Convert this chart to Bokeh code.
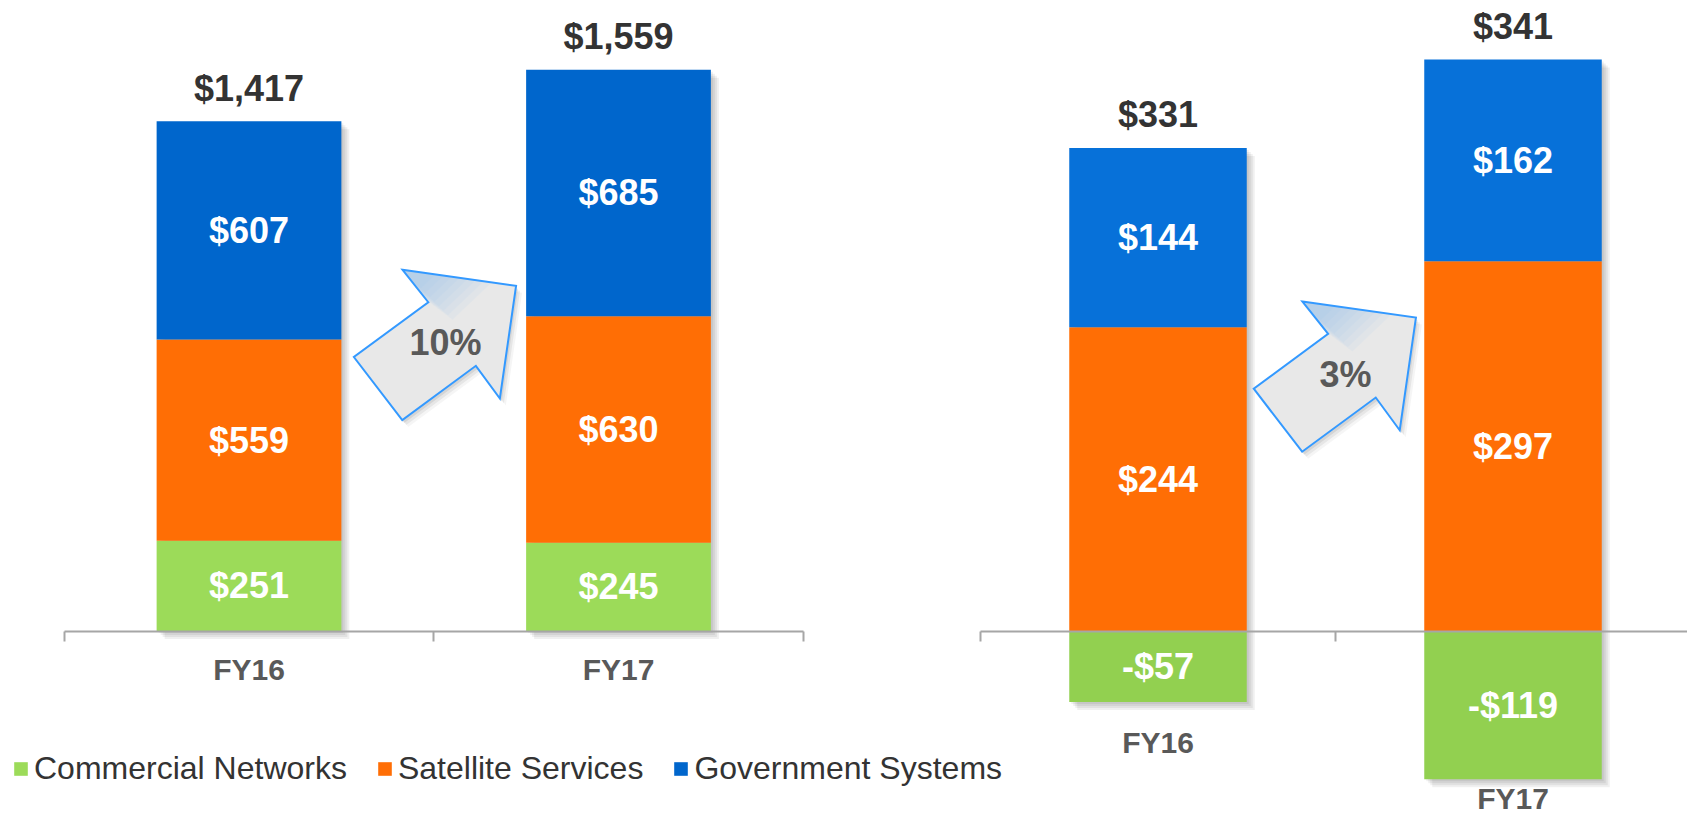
import numpy as np
from bokeh.plotting import figure
from bokeh.models import Range1d, LinearAxis, FixedTicker, Legend, LegendItem
from bokeh.core.properties import value
from bokeh.embed import file_html
from bokeh.resources import INLINE

# ---------------- data ----------------
categories = ["FY16", "FY17"]
series_names = ["Commercial Networks", "Satellite Services", "Government Systems"]

left_commercial = [251, 245]
left_satellite = [559, 630]
left_government = [607, 685]
left_totals = [1417, 1559]
left_growth = "10%"

right_commercial = [-57, -119]
right_satellite = [244, 297]
right_government = [144, 162]
right_totals = [331, 341]
right_growth = "3%"

# ---------------- styles / layout ----------------
W, H = 1687, 818
FONT_NAME = "Liberation Sans"
FONT = value(FONT_NAME)
LEFT_COLORS = ["#9CDB59", "#FF6E05", "#0066CC"]
RIGHT_COLORS = ["#92D050", "#FF6E05", "#0771D9"]
AXIS_COLOR = "#A6A6A6"
BAR_W = 0.5

# canvas geometry (pixels inside the figure)
BASE_Y = 630.5            # zero line
L_X0, L_CAT, L_K = 63.75, 369.5, 0.3598
R_X0, R_CAT, R_K = 980.0, 355.0, 1.245

left_x_range = Range1d(-L_X0 / L_CAT, (W - L_X0) / L_CAT)
left_y_range = Range1d(-(H - BASE_Y) / L_K, BASE_Y / L_K)
right_x_range = Range1d(-R_X0 / R_CAT, (W - R_X0) / R_CAT)
right_y_range = Range1d(-(H - BASE_Y) / R_K, BASE_Y / R_K)

# arrow outline, pixel offsets around its label (x right, y down)
ARROW = [(-43, -73), (70.5, -57), (54.3, 55.7), (30.3, 23), (-43.3, 77.2), (-91.7, 14.2), (-17.3, -40.6)]
LEFT_ARROW_AT = (1.032, 801)
RIGHT_ARROW_AT = (1.028, 206)
R_LABEL_GAP = [41, 19]


def money(v):
    return f"-${-v:,}" if v < 0 else f"${v:,}"


p = figure(width=W, height=H, x_range=left_x_range, y_range=left_y_range,
           output_backend="svg", toolbar_location=None,
           x_axis_location=None, y_axis_location=None, min_border=0,
           outline_line_color=None, background_fill_color="white",
           border_fill_color="white")
p.extra_x_ranges = {"r": right_x_range}
p.extra_y_ranges = {"r": right_y_range}
p.grid.visible = False


def draw_arrow(anchor, sx, sy, label, kw):
    ax, ay = anchor
    xs = [ax + dx / sx for dx, dy in ARROW]
    ys = [ay - dy / sy for dx, dy in ARROW]
    for off, alpha in [(2, 0.08), (4, 0.06), (6, 0.04)]:
        p.patch([ax + (dx + off) / sx for dx, dy in ARROW],
                [ay - (dy + off + 1) / sy for dx, dy in ARROW],
                fill_color="black", fill_alpha=alpha, line_color=None, **kw)
    p.patch(xs, ys, fill_color="#E8E8E8", line_color=None, **kw)
    # bluish tint fading away from the upper barb
    bx, by = ARROW[0]
    for i in range(8):
        frac = 1.0 - i * 0.09
        pts = [(bx, by),
               (bx + frac * 90, by + frac * 12),
               (bx + frac * 50, by + frac * 50),
               (bx + frac * 26, by + frac * 32)]
        p.patch([ax + q[0] / sx for q in pts], [ay - q[1] / sy for q in pts],
                fill_color="#7FB2EA", fill_alpha=0.07, line_color=None, **kw)
    p.patch(xs, ys, fill_color=None, line_color="#3399FF", line_width=2,
            line_join="miter", **kw)
    p.text(x=[ax], y=[ay], text=[label], text_font=FONT, text_font_style="bold",
           text_font_size="36px", text_color="#595959", text_align="center",
           text_baseline="middle", **kw)


def draw_panel(vals_list, colors, totals, growth, sx, sy, anchor, rn):
    kw = {} if rn is None else dict(x_range_name=rn, y_range_name=rn)
    n = len(categories)
    x = np.arange(n) + 0.5
    pos = np.zeros(n)
    neg = np.zeros(n)
    segs = []
    for vals, col in zip(vals_list, colors):
        v = np.array(vals, dtype=float)
        bottom = np.where(v >= 0, pos, neg + v)
        top = np.where(v >= 0, pos + v, neg)
        pos = np.where(v >= 0, pos + v, pos)
        neg = np.where(v < 0, neg + v, neg)
        segs.append((vals, bottom, top, col))
    # soft drop shadow
    for k in range(1, 5):
        d = 2 * k
        p.vbar(x=x + d / sx, width=BAR_W, bottom=neg - d / sy, top=pos - d / sy,
               fill_color="black", fill_alpha=0.06, line_color=None, **kw)
    rends = []
    for vals, b, t, col in segs:
        r = p.vbar(x=x, width=BAR_W, bottom=b, top=t, fill_color=col,
                   line_color=None, **kw)
        rends.append(r)
        p.text(x=x, y=(b + t) / 2, text=[money(a) for a in vals], text_font=FONT,
               text_font_style="bold", text_font_size="36px", text_color="white",
               text_align="center", text_baseline="middle", **kw)
    p.text(x=x, y=pos, text=[money(t) for t in totals], y_offset=-33,
           text_font=FONT, text_font_style="bold", text_font_size="36px",
           text_color="#333333", text_align="center", text_baseline="middle", **kw)
    draw_arrow(anchor, sx, sy, growth, kw)
    # axis line with boundary ticks at the zero line
    tick_axis = LinearAxis(fixed_location=0, ticker=FixedTicker(ticks=list(range(n + 1))),
                           bounds=(0, n), major_tick_in=0, major_tick_out=10,
                           axis_line_color=AXIS_COLOR, axis_line_width=2,
                           major_tick_line_color=AXIS_COLOR, major_tick_line_width=2,
                           minor_tick_line_color=None,
                           major_label_overrides={i: "" for i in range(n + 1)},
                           major_label_text_font_size="1px")
    if rn is not None:
        tick_axis.x_range_name = rn
    p.add_layout(tick_axis, "below")
    return x, pos, neg, rends


# left panel
lx, lpos, lneg, lrends = draw_panel([left_commercial, left_satellite, left_government],
                                    LEFT_COLORS, left_totals, left_growth,
                                    L_CAT, L_K, LEFT_ARROW_AT, None)
label_axis = LinearAxis(fixed_location=0, ticker=FixedTicker(ticks=[float(v) for v in lx]),
                        major_label_overrides={float(v): c for v, c in zip(lx, categories)},
                        axis_line_color=None, major_tick_line_color=None,
                        minor_tick_line_color=None, major_tick_in=0, major_tick_out=0,
                        major_label_standoff=22, major_label_text_font=FONT_NAME,
                        major_label_text_font_style="bold",
                        major_label_text_font_size="30px",
                        major_label_text_color="#595959")
p.add_layout(label_axis, "below")

# right panel
rx, rpos, rneg, rrends = draw_panel([right_commercial, right_satellite, right_government],
                                    RIGHT_COLORS, right_totals, right_growth,
                                    R_CAT, R_K, RIGHT_ARROW_AT, "r")
p.text(x=rx, y=rneg, text=categories, y_offset=R_LABEL_GAP, x_range_name="r",
       y_range_name="r", text_font=FONT, text_font_style="bold",
       text_font_size="30px", text_color="#595959", text_align="center",
       text_baseline="middle")

legend = Legend(items=[LegendItem(label=s, renderers=[r]) for s, r in zip(series_names, lrends)],
                orientation="horizontal", location=(12, 31), glyph_width=17,
                glyph_height=17, label_text_font=FONT_NAME, label_text_font_size="32px",
                label_text_color="#333333", label_standoff=5, spacing=29,
                padding=0, margin=0, border_line_color=None, background_fill_alpha=0)
p.add_layout(legend)

open("out.html", "w").write(file_html(p, INLINE))
